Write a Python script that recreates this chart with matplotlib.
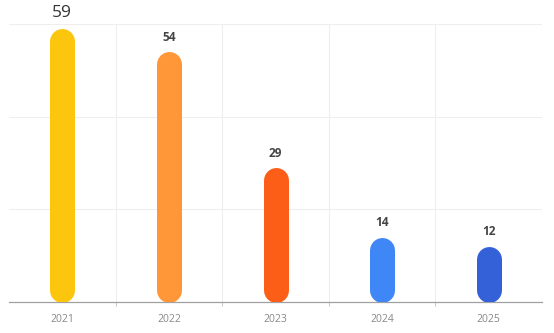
import matplotlib
matplotlib.use("Agg")
import matplotlib.pyplot as plt

# data
years = ['2021', '2022', '2023', '2024', '2025']
values = [59, 54, 29, 14, 12]
colors = ['#FCC60E', '#FF9637', '#FC5E18', '#3F86F7', '#3461D8']

plt.rcParams['font.family'] = ['Open Sans', 'DejaVu Sans']

fig = plt.figure(figsize=(5.54, 3.33), dpi=100)
ax = fig.add_axes([9/554, 31/333, 533/554, 278/333])

ax.set_xlim(-0.5, len(years) - 0.5)
ax.set_ylim(0, 60)

# bar width 25px -> 18pt, round caps eat r px each end
bar_px = 25
r = (bar_px / 2) / 278 * 60
for i, (v, c) in enumerate(zip(values, colors)):
    ax.plot([i, i], [r, v - r], color=c, linewidth=bar_px * 72 / 100,
            solid_capstyle='round', zorder=3)
    if i == 0:
        ax.annotate(str(v), (i, v), xytext=(0, 11), textcoords='offset points',
                    ha='center', va='center', fontsize=12.5, color='#333333')
    else:
        ax.annotate(str(v), (i, v), xytext=(0, 10.5), textcoords='offset points',
                    ha='center', va='center', fontsize=8.5, fontweight='bold',
                    color='#444444')

# grid
for y in [20, 40, 60]:
    ax.axhline(y, color='#EEEEEE', linewidth=0.8, zorder=0)
for x in [0.5, 1.5, 2.5, 3.5, 4.5]:
    ax.axvline(x, color='#EEEEEE', linewidth=0.8, zorder=0)

for s in ['top', 'right', 'left']:
    ax.spines[s].set_visible(False)
ax.spines['bottom'].set_color('#A0A0A0')
ax.spines['bottom'].set_linewidth(0.9)

ax.set_yticks([])
ax.set_xticks(range(len(years)))
ax.set_xticklabels(years, fontsize=7.5, color='#888888')
ax.tick_params(axis='x', length=0, pad=9)
ax.set_xticks([0.5, 1.5, 2.5, 3.5], minor=True)
ax.tick_params(axis='x', which='minor', length=3, color='#BBBBBB')

fig.savefig('out.png', dpi=100)
